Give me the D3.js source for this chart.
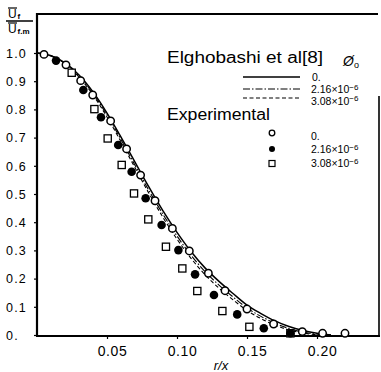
<!DOCTYPE html>
<html><head><meta charset="utf-8">
<script src="https://cdn.jsdelivr.net/npm/d3@7"></script>
<style>body{margin:0;background:#fff}svg{display:block}</style>
</head><body><svg id="c" width="381" height="372"></svg>
<script>
// ---- data ----
const modelX   = [0,0.01,0.02,0.03,0.04,0.05,0.06,0.07,0.08,0.09,0.10,0.11,0.12,0.13,0.14,0.15,0.16,0.17,0.18,0.19,0.20,0.21];
const modelPhi0   = [1.0,0.99,0.965,0.922,0.862,0.787,0.702,0.613,0.524,0.44,0.364,0.296,0.238,0.19,0.147,0.106,0.076,0.05,0.03,0.016,0.006,0.0];
const modelPhi216 = [1.0,0.99,0.963,0.918,0.856,0.78,0.693,0.602,0.512,0.428,0.351,0.283,0.225,0.177,0.135,0.096,0.066,0.042,0.023,0.01,0.003,0.0];
const modelPhi308 = [1.0,0.99,0.962,0.915,0.851,0.773,0.685,0.593,0.502,0.417,0.34,0.272,0.214,0.166,0.125,0.087,0.058,0.035,0.018,0.007,0.001,0.0];

const expOpenX = [0.005,0.0207,0.0312,0.0398,0.0526,0.064,0.074,0.0843,0.0967,0.1088,0.1224,0.1343,0.150,0.169,0.1895,0.204,0.220];
const expOpenY = [0.995,0.958,0.902,0.851,0.759,0.66,0.567,0.476,0.378,0.298,0.219,0.157,0.092,0.039,0.012,0.006,0.006];
const expFilledX = [0.0136,0.0331,0.0457,0.058,0.0676,0.0776,0.089,0.101,0.1129,0.1264,0.143,0.162,0.181];
const expFilledY = [0.973,0.869,0.772,0.674,0.579,0.485,0.390,0.301,0.215,0.142,0.073,0.024,0.006];
const expSquareX = [0.0248,0.041,0.0505,0.0605,0.0693,0.0795,0.0921,0.1038,0.1145,0.1324,0.1517,0.181];
const expSquareY = [0.930,0.801,0.697,0.603,0.502,0.410,0.313,0.236,0.156,0.085,0.029,0.006];

const yTicks = [0,0.1,0.2,0.3,0.4,0.5,0.6,0.7,0.8,0.9,1.0];
const yTickLabels = ["0.","0.1","0.2","0.3","0.4","0.5","0.6","0.7","0.8","0.9","1.0"];
const xTicks = [0.05,0.10,0.15,0.20];
const xTickLabels = ["0.05","0.10","0.15","0.20"];
const legendPhi = ["0.","2.16×10","3.08×10"];

// ---- drawing ----
const svg = d3.select("#c");
const FONT = "Liberation Sans, Arial, sans-serif";
const x = d3.scaleLinear().domain([0,0.245]).range([37,380]);
const y = d3.scaleLinear().domain([0,1]).range([335,53]);

// frame
const g = svg.append("g");
g.append("line").attr("x1",37).attr("x2",378).attr("y1",14).attr("y2",14).attr("stroke","#000").attr("stroke-width",1.8);
g.append("line").attr("x1",37).attr("x2",37).attr("y1",13).attr("y2",336.5).attr("stroke","#000").attr("stroke-width",2.2);
g.append("line").attr("x1",36).attr("x2",380).attr("y1",336).attr("y2",336).attr("stroke","#000").attr("stroke-width",2);
g.append("line").attr("x1",379).attr("x2",379).attr("y1",96).attr("y2",337).attr("stroke","#000").attr("stroke-width",1.6);

// y axis ticks and labels
const yAxis = d3.axisLeft(y).tickValues(yTicks).tickSize(3).tickFormat((d,i)=>yTickLabels[i]);
const ya = svg.append("g").attr("transform","translate(37,0)").call(yAxis);
ya.select(".domain").remove();
ya.selectAll("line").attr("stroke","#000").attr("stroke-width",1.2);
ya.selectAll("text").attr("x",-31).attr("text-anchor","start").attr("dy","0.35em")
  .attr("font-family",FONT).attr("font-size",12.5).attr("letter-spacing",1.2).attr("fill","#000");

// x axis ticks and labels
const xAxis = d3.axisBottom(x).tickValues(xTicks).tickSize(3).tickFormat((d,i)=>xTickLabels[i]);
const xa = svg.append("g").attr("transform","translate(0,336)").call(xAxis);
xa.select(".domain").remove();
xa.selectAll("line").attr("stroke","#000").attr("stroke-width",1.2);
xa.selectAll("text").attr("dx",5).attr("y",15).attr("dy","0.35em")
  .attr("font-family",FONT).attr("font-size",14).attr("letter-spacing",0.6).attr("fill","#000");

// axis titles
svg.append("text").attr("x",221).attr("y",370).attr("text-anchor","middle")
  .attr("font-family",FONT).attr("font-size",13).attr("font-style","italic").text("r/x");
// y title: U_f / U_f.m with overbars
function ubar(xx, base, sub){
  svg.append("text").attr("x",xx).attr("y",base).attr("font-family",FONT).attr("font-size",12).text("U");
  svg.append("line").attr("x1",xx).attr("x2",xx+9).attr("y1",base-10).attr("y2",base-10).attr("stroke","#000").attr("stroke-width",1.2);
  svg.append("text").attr("x",xx+9.5).attr("y",base+1).attr("font-family",FONT).attr("font-size",8).attr("font-weight","bold").text(sub);
}
ubar(8,18,"f");
svg.append("line").attr("x1",6).attr("x2",33).attr("y1",21).attr("y2",21).attr("stroke","#000").attr("stroke-width",1.5);
ubar(8,33,"f.m");

// model lines
const line = d3.line().x((d,i)=>x(modelX[i])).y(d=>y(d)).curve(d3.curveMonotoneX);
const styles = [
  {data:modelPhi0, dash:null},
  {data:modelPhi216, dash:"7,2,1.5,2"},
  {data:modelPhi308, dash:"4,2.5"}
];
styles.forEach(s=>{
  svg.append("path").attr("d",line(s.data)).attr("fill","none").attr("stroke","#000")
    .attr("stroke-width",s.dash?1.1:1.5).attr("stroke-dasharray",s.dash);
});

// experimental markers
svg.append("g").selectAll("rect").data(expSquareX).join("rect")
  .attr("x",(d)=>x(d)-3.6).attr("y",(d,i)=>y(expSquareY[i])-3.6).attr("width",7.2).attr("height",7.2)
  .attr("fill","#fff").attr("stroke","#000").attr("stroke-width",1.3);
svg.append("g").selectAll("circle").data(expFilledX).join("circle")
  .attr("cx",d=>x(d)).attr("cy",(d,i)=>y(expFilledY[i])).attr("r",4.3).attr("fill","#000");
svg.append("g").selectAll("circle").data(expOpenX).join("circle")
  .attr("cx",d=>x(d)).attr("cy",(d,i)=>y(expOpenY[i])).attr("r",3.7)
  .attr("fill","#fff").attr("stroke","#000").attr("stroke-width",1.5);

// legend
svg.append("text").attr("x",167).attr("y",63).attr("font-family",FONT).attr("font-size",16)
  .attr("textLength",156).attr("lengthAdjust","spacingAndGlyphs").text("Elghobashi et al[8]");
svg.append("text").attr("x",343).attr("y",66).attr("font-family",FONT).attr("font-size",14).attr("font-style","italic").text("Ø");
svg.append("text").attr("x",354).attr("y",68).attr("font-family",FONT).attr("font-size",9).text("o");
svg.append("text").attr("x",167).attr("y",120).attr("font-family",FONT).attr("font-size",16)
  .attr("textLength",103).attr("lengthAdjust","spacingAndGlyphs").text("Experimental");

const legY = [77,89,98];
styles.forEach((s,i)=>{
  svg.append("line").attr("x1",243).attr("x2",300).attr("y1",legY[i]).attr("y2",legY[i])
    .attr("stroke","#000").attr("stroke-width",s.dash?1.1:1.4).attr("stroke-dasharray",s.dash);
});
function phiLabel(xx, yy, i){
  const t = svg.append("text").attr("x",xx).attr("y",yy).attr("font-family",FONT).attr("font-size",10.5).text(legendPhi[i]);
  if(i>0){
    t.append("tspan").attr("dy",-3.5).attr("font-size",8).text("−6");
  }
}
phiLabel(312,81,0); phiLabel(311,93,1); phiLabel(311,104.5,2);

// experimental legend markers
svg.append("circle").attr("cx",272).attr("cy",133).attr("r",2.8).attr("fill","#fff").attr("stroke","#000").attr("stroke-width",1.3);
svg.append("circle").attr("cx",272).attr("cy",149).attr("r",3).attr("fill","#000");
svg.append("rect").attr("x",269).attr("y",160.5).attr("width",6).attr("height",6).attr("fill","#fff").attr("stroke","#000").attr("stroke-width",1.2);
phiLabel(311,140,0); phiLabel(311,153,1); phiLabel(311,167,2);
</script>
</body></html>
